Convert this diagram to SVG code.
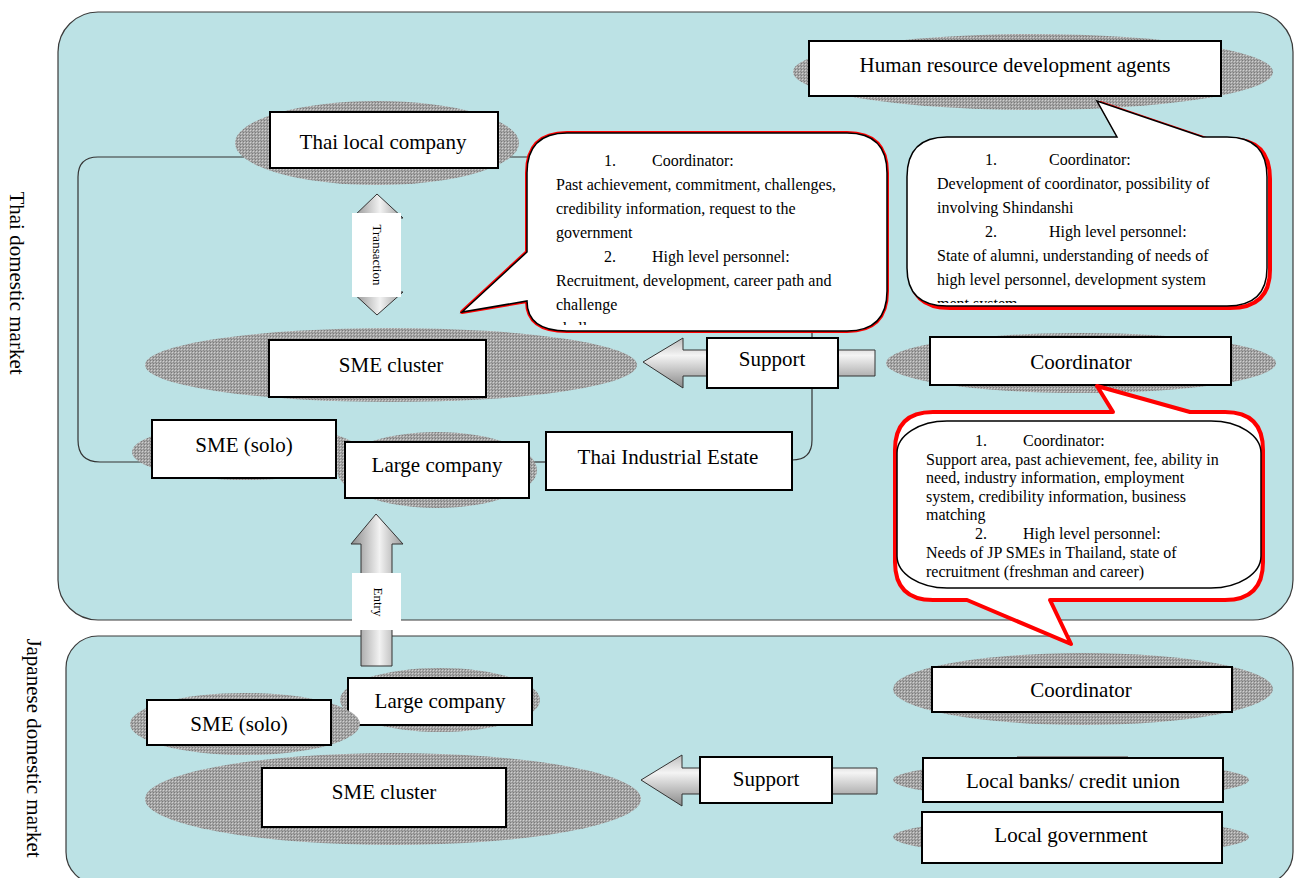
<svg xmlns="http://www.w3.org/2000/svg" width="1296" height="878" viewBox="0 0 1296 878">
  <defs>
    <style>
      .panel { fill: #bce2e5; stroke: #3a3a3a; stroke-width: 1.2; }
      .halo { fill: url(#dots); }
      .box { fill: #fff; stroke: #000; stroke-width: 2; }
      .lbl { font-family: "Liberation Serif", "Times New Roman", serif; font-size: 21px; fill: #000; text-anchor: middle; }
      .side { font-family: "Liberation Serif", "Times New Roman", serif; font-size: 21px; fill: #000; text-anchor: middle; }
      .note { font-family: "Liberation Serif", "Times New Roman", serif; font-size: 16px; fill: #000; }
      .small { font-family: "Liberation Serif", "Times New Roman", serif; font-size: 13px; fill: #000; text-anchor: middle; }
      .conn { fill: none; stroke: #333; stroke-width: 1.2; }
      .arrH { fill: url(#gradV); stroke: #333; stroke-width: 1; }
      .arrV { fill: url(#gradH); stroke: #333; stroke-width: 1; }
      .tag { fill: #fff; }
      .bubble { fill: #fff; stroke: #000; stroke-width: 1.5; }
      .rim { fill: #fff; stroke: #ff0000; stroke-width: 4; stroke-linejoin: round; }
    </style>
    <pattern id="dots" width="3" height="3" patternUnits="userSpaceOnUse">
      <rect width="3" height="3" fill="#a6a6a6"/>
      <rect width="1" height="1" fill="#7a7a7a"/>
      <rect x="1" y="1" width="1" height="1" fill="#d0d0d0"/>
      <rect x="2" y="2" width="1" height="1" fill="#8a8a8a"/>
    </pattern>
    <linearGradient id="gradH" x1="0" y1="0" x2="1" y2="0">
      <stop offset="0" stop-color="#8a8a8a"/>
      <stop offset="0.55" stop-color="#f2f2f2"/>
      <stop offset="1" stop-color="#9a9a9a"/>
    </linearGradient>
    <linearGradient id="gradV" x1="0" y1="0" x2="0" y2="1">
      <stop offset="0" stop-color="#bdbdbd"/>
      <stop offset="0.35" stop-color="#f4f4f4"/>
      <stop offset="1" stop-color="#8a8a8a"/>
    </linearGradient>
    <clipPath id="clipA"><rect x="540" y="140" width="340" height="185"/></clipPath>
    <clipPath id="clipB"><rect x="920" y="140" width="340" height="163"/></clipPath>
  </defs>

  <rect width="1296" height="878" fill="#fff"/>

  <!-- market panels -->
  <g id="panels">
    <rect class="panel" x="58" y="12" width="1235" height="608" rx="40" ry="40"/>
    <rect class="panel" x="66" y="636" width="1227" height="248" rx="32" ry="32"/>
    <text class="side" transform="translate(10,283) rotate(90)">Thai domestic market</text>
    <text class="side" transform="translate(27,748) rotate(90)">Japanese domestic market</text>
  </g>

  <!-- connectors -->
  <g id="connectors">
    <path class="conn" d="M270,157 H98 Q78,157 78,177 V440 Q78,462 100,462 H152"/>
    <path class="conn" d="M498,157 H540"/>
    <path class="conn" d="M336,462 H345"/>
    <path class="conn" d="M529,462 H546"/>
    <path class="conn" d="M792,460 Q812,460 812,440 V331"/>
  </g>

  <!-- Thai domestic market -->
  <g id="hrd-agents">
    <ellipse class="halo" cx="1033" cy="72" rx="240" ry="38"/>
    <rect class="box" x="809" y="41" width="412" height="55"/>
    <text class="lbl" x="1015" y="72">Human resource development agents</text>
  </g>

  <g id="thai-local-company">
    <ellipse class="halo" cx="377" cy="143" rx="142" ry="42"/>
    <rect class="box" x="270" y="112" width="228" height="56"/>
    <text class="lbl" x="383" y="149">Thai local company</text>
  </g>

  <g id="transaction">
    <path class="arrV" d="M377,194 L403,218 H352 Z"/>
    <path class="arrV" d="M377,315 L403,292 H352 Z"/>
    <rect class="tag" x="352" y="213" width="49" height="84"/>
    <text class="small" transform="translate(373,255) rotate(90)">Transaction</text>
  </g>

  <g id="sme-cluster-th">
    <ellipse class="halo" cx="391" cy="365" rx="246" ry="37"/>
    <rect class="box" x="269" y="340" width="217" height="57"/>
    <text class="lbl" x="391" y="372">SME cluster</text>
  </g>

  <g id="support-th">
    <path class="arrH" d="M643,362 L683,338 V350 H875 V376 H683 V388 Z"/>
    <rect class="box" x="707" y="338" width="131" height="50"/>
    <text class="lbl" x="772" y="366">Support</text>
  </g>

  <g id="coordinator-th">
    <ellipse class="halo" cx="1081" cy="363" rx="195" ry="30"/>
    <rect class="box" x="930" y="337" width="301" height="48"/>
    <text class="lbl" x="1081" y="369">Coordinator</text>
  </g>

  <g id="sme-solo-th">
    <ellipse class="halo" cx="246" cy="452" rx="114" ry="28"/>
    <rect class="box" x="152" y="420" width="184" height="58"/>
    <text class="lbl" x="244" y="452">SME (solo)</text>
  </g>

  <g id="large-company-th">
    <ellipse class="halo" cx="437" cy="470" rx="100" ry="38"/>
    <rect class="box" x="345" y="442" width="184" height="56"/>
    <text class="lbl" x="437" y="472">Large company</text>
  </g>

  <g id="thai-industrial-estate">
    <rect class="box" x="546" y="432" width="246" height="58"/>
    <text class="lbl" x="668" y="464">Thai Industrial Estate</text>
  </g>

  <!-- Japanese domestic market -->
  <g id="large-company-jp">
    <ellipse class="halo" cx="440" cy="700" rx="100" ry="32"/>
    <rect class="box" x="348" y="678" width="184" height="47"/>
    <text class="lbl" x="440" y="708">Large company</text>
  </g>

  <g id="entry">
    <path class="arrV" d="M376,514 L403,544 H392 V666 H361 V544 H351 Z"/>
    <rect class="tag" x="352" y="573" width="49" height="57"/>
    <text class="small" transform="translate(374,602) rotate(90)">Entry</text>
  </g>

  <g id="sme-solo-jp">
    <ellipse class="halo" cx="245" cy="724" rx="115" ry="31"/>
    <rect class="box" x="147" y="700" width="184" height="45"/>
    <text class="lbl" x="239" y="731">SME (solo)</text>
  </g>

  <g id="sme-cluster-jp">
    <ellipse class="halo" cx="393" cy="799" rx="248" ry="46"/>
    <rect class="box" x="262" y="768" width="244" height="59"/>
    <text class="lbl" x="384" y="799">SME cluster</text>
  </g>

  <g id="support-jp">
    <path class="arrH" d="M641,780 L682,755 V768 H877 V794 H682 V806 Z"/>
    <rect class="box" x="700" y="757" width="132" height="46"/>
    <text class="lbl" x="766" y="786">Support</text>
  </g>

  <g id="coordinator-jp">
    <ellipse class="halo" cx="1083" cy="689" rx="190" ry="36"/>
    <rect class="box" x="932" y="667" width="300" height="45"/>
    <text class="lbl" x="1081" y="697">Coordinator</text>
  </g>

  <g id="local-banks">
    <rect x="1017" y="756" width="111" height="3" fill="#8a8a8a"/>
    <ellipse class="halo" cx="1071" cy="780" rx="178" ry="19"/>
    <rect class="box" x="923" y="758" width="300" height="44"/>
    <text class="lbl" x="1073" y="788">Local banks/ credit union</text>
  </g>

  <g id="local-government">
    <ellipse class="halo" cx="1071" cy="837" rx="178" ry="19"/>
    <rect class="box" x="922" y="812" width="300" height="51"/>
    <text class="lbl" x="1071" y="842">Local government</text>
  </g>

  <!-- callouts -->
  <g id="callout-cluster">
    <path class="rim" d="M567,133 H847 Q887,133 887,173 V291 Q887,331 847,331 H567 Q527,331 527,301 L462,312 L527,252 V173 Q527,133 567,133 Z"/>
    <path class="bubble" d="M567,133 H847 Q887,133 887,173 V291 Q887,331 847,331 H567 Q527,331 527,301 L462,312 L527,252 V173 Q527,133 567,133 Z"/>
    <g class="note" clip-path="url(#clipA)">
      <text x="604" y="166">1.</text>
      <text x="652" y="166">Coordinator:</text>
      <text x="556" y="190">Past achievement, commitment, challenges,</text>
      <text x="556" y="214">credibility information, request to the</text>
      <text x="556" y="238">government</text>
      <text x="604" y="262">2.</text>
      <text x="652" y="262">High level personnel:</text>
      <text x="556" y="286">Recruitment, development, career path and</text>
      <text x="556" y="310">challenge</text>
      <text x="556" y="334">challe</text>
    </g>
  </g>

  <g id="callout-hrd">
    <path class="rim" transform="translate(3,2)" d="M947,137 H1117 L1097,101 L1203,137 H1227 Q1267,137 1267,177 V268 Q1267,306 1227,306 H947 Q907,306 907,268 V177 Q907,137 947,137 Z"/>
    <path class="bubble" d="M947,137 H1117 L1097,101 L1203,137 H1227 Q1267,137 1267,177 V268 Q1267,306 1227,306 H947 Q907,306 907,268 V177 Q907,137 947,137 Z"/>
    <g class="note" clip-path="url(#clipB)">
      <text x="985" y="165">1.</text>
      <text x="1049" y="165">Coordinator:</text>
      <text x="937" y="189">Development of coordinator, possibility of</text>
      <text x="937" y="213">involving Shindanshi</text>
      <text x="985" y="237">2.</text>
      <text x="1049" y="237">High level personnel:</text>
      <text x="937" y="261">State of alumni, understanding of needs of</text>
      <text x="937" y="285">high level personnel, development system</text>
      <text x="937" y="309">ment system</text>
    </g>
  </g>

  <g id="callout-coordinator">
    <path class="rim" d="M933,412 H1113 L1097,386 L1190,412 H1225 Q1263,412 1263,450 V562 Q1263,600 1225,600 H1050 L1071,644 L967,600 H933 Q895,600 895,562 V450 Q895,412 933,412 Z"/>
    <rect class="bubble" x="897" y="421" width="364" height="167" rx="50" ry="32"/>
    <g class="note">
      <text x="975" y="446">1.</text>
      <text x="1023" y="446">Coordinator:</text>
      <text x="926" y="465">Support area, past achievement, fee, ability in</text>
      <text x="926" y="483">need, industry information, employment</text>
      <text x="926" y="502">system, credibility information, business</text>
      <text x="926" y="520">matching</text>
      <text x="975" y="539">2.</text>
      <text x="1023" y="539">High level personnel:</text>
      <text x="926" y="558">Needs of JP SMEs in Thailand, state of</text>
      <text x="926" y="577">recruitment (freshman and career)</text>
    </g>
  </g>
</svg>
